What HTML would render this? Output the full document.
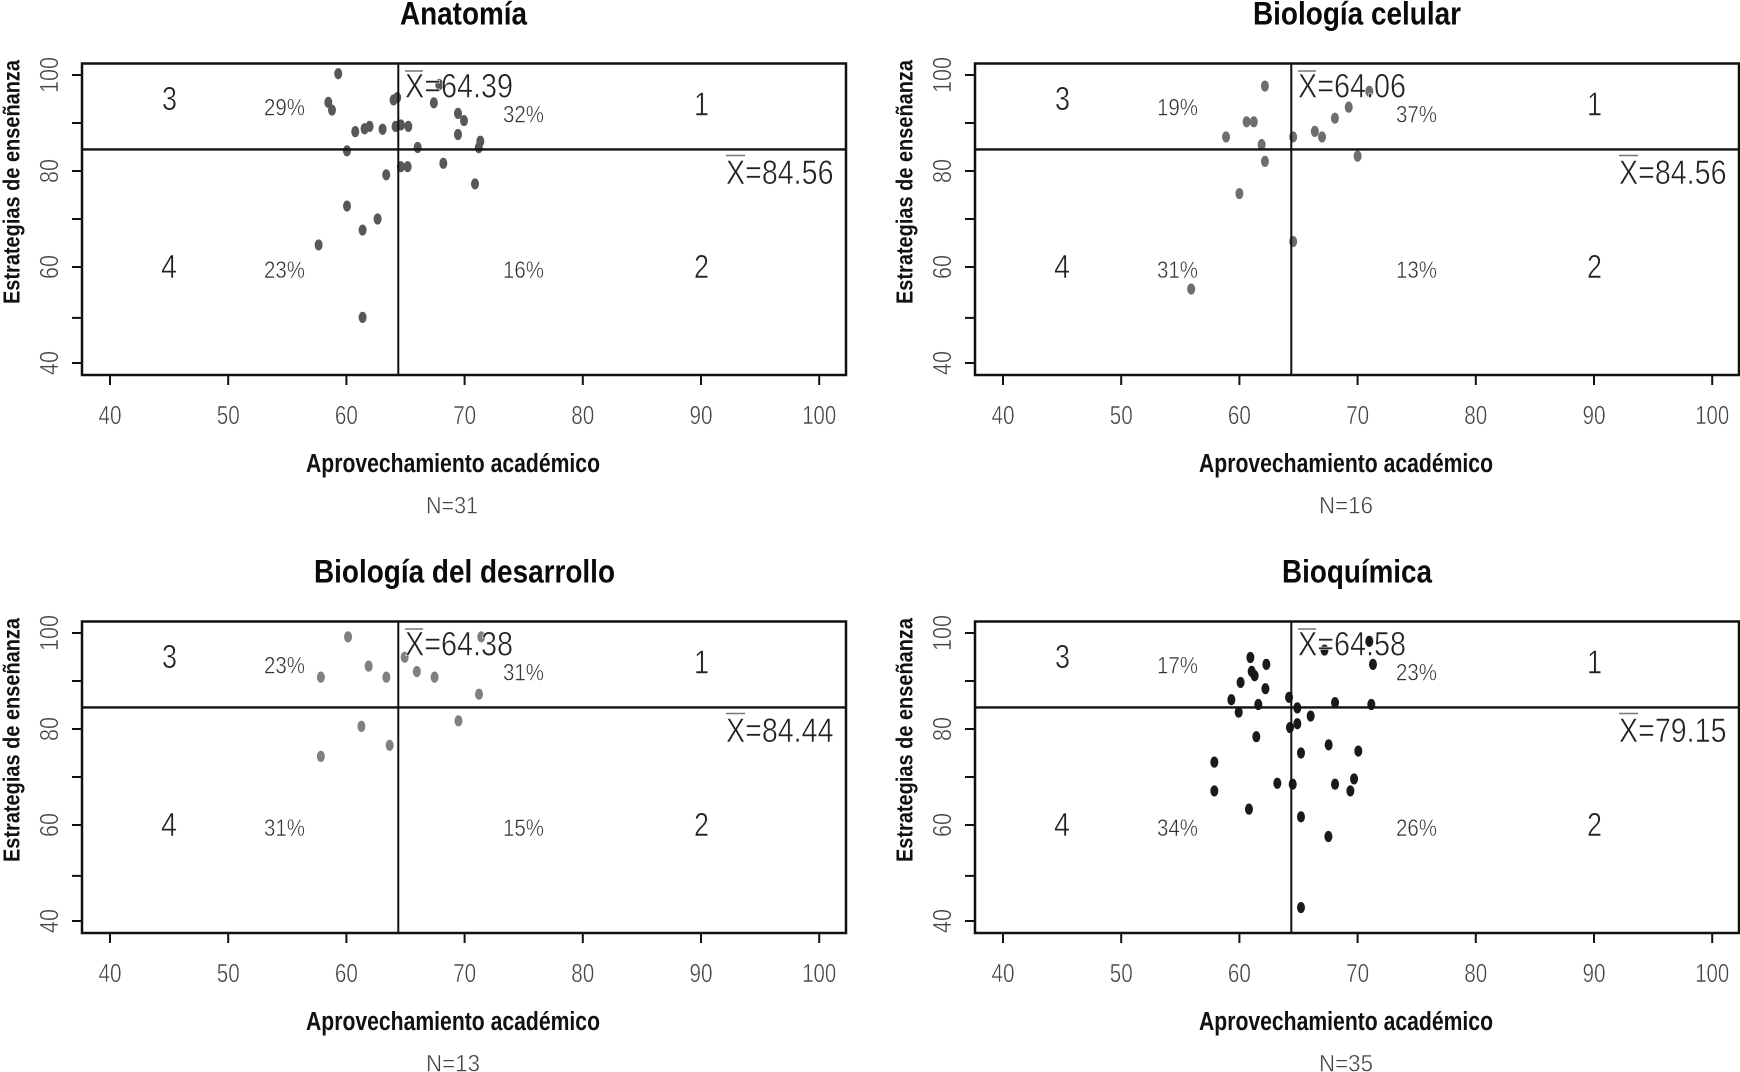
<!DOCTYPE html>
<html lang="es">
<head>
<meta charset="utf-8">
<title>Estrategias de enseñanza vs aprovechamiento académico</title>
<style>
html,body{margin:0;padding:0;background:#fff;}
svg{display:block;}
text{font-family:"Liberation Sans",sans-serif;}
.title{font-size:32px;font-weight:bold;fill:#0a0a0a;}
.xtitle{font-size:25.5px;font-weight:bold;fill:#111;}
.ytitle{font-size:23px;font-weight:bold;fill:#111;}
.n{font-size:24px;fill:#444;stroke:#fff;stroke-width:.45px;}
.q{font-size:33px;fill:#222;stroke:#fff;stroke-width:.55px;}
.pct{font-size:24px;fill:#333;stroke:#fff;stroke-width:.45px;}
.mean{font-size:34px;fill:#222;stroke:#fff;stroke-width:.6px;}
.tick{font-size:26px;fill:#444;stroke:#fff;stroke-width:.45px;}
.box{fill:none;stroke:#111;stroke-width:2.5;}
.bar{stroke:#777;stroke-width:1.6;}
</style>
</head>
<body>
<svg xmlns="http://www.w3.org/2000/svg" width="1740" height="1072" viewBox="0 0 1740 1072">
<rect width="1740" height="1072" fill="#fff"/>

<g transform="translate(0,0)">
  <g id="marks0"></g>
  <rect class="box" x="82" y="63.5" width="764" height="311.5"/>
  <text class="title" x="400" y="24.5" textLength="127" lengthAdjust="spacingAndGlyphs">Anatomía</text>
  <text class="xtitle" x="306" y="472" textLength="294" lengthAdjust="spacingAndGlyphs">Aprovechamiento académico</text>
  <text class="ytitle" transform="translate(19.5,304) rotate(-90)" textLength="244" lengthAdjust="spacingAndGlyphs">Estrategias de enseñanza</text>
  <text class="n" x="426" y="513.5" textLength="52" lengthAdjust="spacingAndGlyphs">N=31</text>
  <text class="q" x="162" y="110" textLength="15" lengthAdjust="spacingAndGlyphs">3</text>
  <text class="q" x="694" y="115.5" textLength="15" lengthAdjust="spacingAndGlyphs">1</text>
  <text class="q" x="161" y="278" textLength="16" lengthAdjust="spacingAndGlyphs">4</text>
  <text class="q" x="694" y="278" textLength="15" lengthAdjust="spacingAndGlyphs">2</text>
  <text class="pct" x="264" y="115.5" textLength="41" lengthAdjust="spacingAndGlyphs">29%</text>
  <text class="pct" x="503" y="122.5" textLength="41" lengthAdjust="spacingAndGlyphs">32%</text>
  <text class="pct" x="264" y="278" textLength="41" lengthAdjust="spacingAndGlyphs">23%</text>
  <text class="pct" x="503" y="278" textLength="41" lengthAdjust="spacingAndGlyphs">16%</text>
  <line class="bar" x1="405" x2="423" y1="71" y2="71"/>
  <text class="mean" x="405" y="97.5" textLength="108" lengthAdjust="spacingAndGlyphs">X=64.39</text>
  <line class="bar" x1="726" x2="745" y1="155.5" y2="155.5"/>
  <text class="mean" x="726" y="184" textLength="107.5" lengthAdjust="spacingAndGlyphs">X=84.56</text>
</g>

<g transform="translate(893,0)">
  <g id="marks1"></g>
  <rect class="box" x="82" y="63.5" width="764" height="311.5"/>
  <text class="title" x="360" y="24.5" textLength="208" lengthAdjust="spacingAndGlyphs">Biología celular</text>
  <text class="xtitle" x="306" y="472" textLength="294" lengthAdjust="spacingAndGlyphs">Aprovechamiento académico</text>
  <text class="ytitle" transform="translate(19.5,304) rotate(-90)" textLength="244" lengthAdjust="spacingAndGlyphs">Estrategias de enseñanza</text>
  <text class="n" x="426" y="513.5" textLength="54" lengthAdjust="spacingAndGlyphs">N=16</text>
  <text class="q" x="162" y="110" textLength="15" lengthAdjust="spacingAndGlyphs">3</text>
  <text class="q" x="694" y="115.5" textLength="15" lengthAdjust="spacingAndGlyphs">1</text>
  <text class="q" x="161" y="278" textLength="16" lengthAdjust="spacingAndGlyphs">4</text>
  <text class="q" x="694" y="278" textLength="15" lengthAdjust="spacingAndGlyphs">2</text>
  <text class="pct" x="264" y="115.5" textLength="41" lengthAdjust="spacingAndGlyphs">19%</text>
  <text class="pct" x="503" y="122.5" textLength="41" lengthAdjust="spacingAndGlyphs">37%</text>
  <text class="pct" x="264" y="278" textLength="41" lengthAdjust="spacingAndGlyphs">31%</text>
  <text class="pct" x="503" y="278" textLength="41" lengthAdjust="spacingAndGlyphs">13%</text>
  <line class="bar" x1="405" x2="423" y1="71" y2="71"/>
  <text class="mean" x="405" y="97.5" textLength="108" lengthAdjust="spacingAndGlyphs">X=64.06</text>
  <line class="bar" x1="726" x2="745" y1="155.5" y2="155.5"/>
  <text class="mean" x="726" y="184" textLength="107.5" lengthAdjust="spacingAndGlyphs">X=84.56</text>
</g>

<g transform="translate(0,558)">
  <g id="marks2"></g>
  <rect class="box" x="82" y="63.5" width="764" height="311.5"/>
  <text class="title" x="314" y="24.5" textLength="301" lengthAdjust="spacingAndGlyphs">Biología del desarrollo</text>
  <text class="xtitle" x="306" y="472" textLength="294" lengthAdjust="spacingAndGlyphs">Aprovechamiento académico</text>
  <text class="ytitle" transform="translate(19.5,304) rotate(-90)" textLength="244" lengthAdjust="spacingAndGlyphs">Estrategias de enseñanza</text>
  <text class="n" x="426" y="513.5" textLength="54" lengthAdjust="spacingAndGlyphs">N=13</text>
  <text class="q" x="162" y="110" textLength="15" lengthAdjust="spacingAndGlyphs">3</text>
  <text class="q" x="694" y="115.5" textLength="15" lengthAdjust="spacingAndGlyphs">1</text>
  <text class="q" x="161" y="278" textLength="16" lengthAdjust="spacingAndGlyphs">4</text>
  <text class="q" x="694" y="278" textLength="15" lengthAdjust="spacingAndGlyphs">2</text>
  <text class="pct" x="264" y="115.5" textLength="41" lengthAdjust="spacingAndGlyphs">23%</text>
  <text class="pct" x="503" y="122.5" textLength="41" lengthAdjust="spacingAndGlyphs">31%</text>
  <text class="pct" x="264" y="278" textLength="41" lengthAdjust="spacingAndGlyphs">31%</text>
  <text class="pct" x="503" y="278" textLength="41" lengthAdjust="spacingAndGlyphs">15%</text>
  <line class="bar" x1="405" x2="423" y1="71" y2="71"/>
  <text class="mean" x="405" y="97.5" textLength="108" lengthAdjust="spacingAndGlyphs">X=64.38</text>
  <line class="bar" x1="726" x2="745" y1="155.5" y2="155.5"/>
  <text class="mean" x="726" y="184" textLength="107.5" lengthAdjust="spacingAndGlyphs">X=84.44</text>
</g>

<g transform="translate(893,558)">
  <g id="marks3"></g>
  <rect class="box" x="82" y="63.5" width="764" height="311.5"/>
  <text class="title" x="389" y="24.5" textLength="150" lengthAdjust="spacingAndGlyphs">Bioquímica</text>
  <text class="xtitle" x="306" y="472" textLength="294" lengthAdjust="spacingAndGlyphs">Aprovechamiento académico</text>
  <text class="ytitle" transform="translate(19.5,304) rotate(-90)" textLength="244" lengthAdjust="spacingAndGlyphs">Estrategias de enseñanza</text>
  <text class="n" x="426" y="513.5" textLength="54" lengthAdjust="spacingAndGlyphs">N=35</text>
  <text class="q" x="162" y="110" textLength="15" lengthAdjust="spacingAndGlyphs">3</text>
  <text class="q" x="694" y="115.5" textLength="15" lengthAdjust="spacingAndGlyphs">1</text>
  <text class="q" x="161" y="278" textLength="16" lengthAdjust="spacingAndGlyphs">4</text>
  <text class="q" x="694" y="278" textLength="15" lengthAdjust="spacingAndGlyphs">2</text>
  <text class="pct" x="264" y="115.5" textLength="41" lengthAdjust="spacingAndGlyphs">17%</text>
  <text class="pct" x="503" y="122.5" textLength="41" lengthAdjust="spacingAndGlyphs">23%</text>
  <text class="pct" x="264" y="278" textLength="41" lengthAdjust="spacingAndGlyphs">34%</text>
  <text class="pct" x="503" y="278" textLength="41" lengthAdjust="spacingAndGlyphs">26%</text>
  <line class="bar" x1="405" x2="423" y1="71" y2="71"/>
  <text class="mean" x="405" y="97.5" textLength="108" lengthAdjust="spacingAndGlyphs">X=64.58</text>
  <line class="bar" x1="726" x2="745" y1="155.5" y2="155.5"/>
  <text class="mean" x="726" y="184" textLength="107.5" lengthAdjust="spacingAndGlyphs">X=79.15</text>
</g>
</svg>

<script>
// Axis tick values and labels
const xTicks = [40, 50, 60, 70, 80, 90, 100];
const yMajorTicks = [40, 60, 80, 100];
const yMinorTicks = [49.4, 70, 90];

// Reference line values per panel, as drawn
const refLineX = [64.39, 64.39, 64.39, 64.39];
const refLineY = [84.5, 84.5, 84.5, 84.5];

// Panel 0: Anatomía
const anatomiaX = [59.31, 58.47, 58.78, 63.99, 64.3, 67.86, 67.4, 69.44, 69.95, 69.44, 71.33, 71.2, 66.03, 65.24, 64.61, 64.16, 63.06, 61.96, 61.54, 60.75, 60.05, 64.61, 65.18, 68.2, 63.37, 70.88, 60.05, 62.64, 61.37, 57.65, 61.37];
const anatomiaY = [100.27, 94.3, 92.7, 94.8, 95.3, 98.0, 94.2, 92.0, 90.5, 87.6, 86.2, 84.85, 84.9, 89.3, 89.6, 89.3, 88.7, 89.3, 88.8, 88.2, 84.2, 80.9, 80.9, 81.6, 79.2, 77.3, 72.7, 70.0, 67.7, 64.6, 49.5];

// Panel 1: Biología celular
const celularX = [62.16, 70.99, 69.25, 68.08, 60.61, 61.22, 66.38, 66.99, 64.55, 58.87, 61.88, 62.16, 70.0, 60.0, 64.55, 55.92];
const celularY = [97.7, 96.6, 93.3, 91.0, 90.25, 90.25, 88.25, 87.1, 87.1, 87.1, 85.5, 82.0, 83.1, 75.3, 65.3, 55.4];

// Panel 2: Biología del desarrollo
const desarrolloX = [60.14, 71.41, 64.93, 61.88, 65.96, 67.46, 63.38, 57.84, 71.22, 69.48, 61.27, 63.66, 57.84];
const desarrolloY = [99.2, 99.2, 94.95, 93.1, 91.96, 90.8, 90.8, 90.8, 87.25, 81.7, 80.55, 76.6, 74.3];

// Panel 3: Bioquímica
const bioquimicaX = [70.99, 67.2, 71.3, 60.93, 62.28, 61.04, 61.29, 60.1, 62.2, 59.32, 59.94, 61.6, 64.2, 64.9, 68.09, 71.16, 66.03, 64.9, 64.28, 61.43, 67.55, 70.06, 65.21, 57.88, 63.21, 64.51, 68.09, 69.7, 69.39, 57.88, 60.81, 65.21, 67.53, 65.21];
const bioquimicaY = [98.26, 96.45, 93.46, 94.9, 93.46, 92.0, 91.1, 89.7, 88.4, 86.1, 83.5, 85.1, 86.6, 84.4, 85.5, 85.1, 82.7, 81.1, 80.3, 78.4, 76.7, 75.4, 75.0, 73.1, 68.7, 68.5, 68.5, 69.6, 67.1, 67.1, 63.3, 61.7, 57.6, 42.8];

const panelX = [anatomiaX, celularX, desarrolloX, bioquimicaX];
const panelY = [anatomiaY, celularY, desarrolloY, bioquimicaY];
const panelColors = ['#58585a', '#6e6e6e', '#808081', '#1a1a1a'];

const SVGNS = 'http://www.w3.org/2000/svg';
const PLOT_TOP = 63.5, PLOT_BOTTOM = 375, PLOT_LEFT = 82, PLOT_RIGHT = 846;

function xScale(v) { return 110 + (v - 40) * 11.82; }
function yScale(v) { return 363 - (v - 40) * 4.8; }

function line(parent, x1, y1, x2, y2, width, color) {
  const el = document.createElementNS(SVGNS, 'line');
  el.setAttribute('x1', x1);
  el.setAttribute('y1', y1);
  el.setAttribute('x2', x2);
  el.setAttribute('y2', y2);
  el.setAttribute('stroke', color);
  el.setAttribute('stroke-width', width);
  parent.appendChild(el);
  return el;
}

panelX.forEach(function (xs, p) {
  const g = document.getElementById('marks' + p);
  const ys = panelY[p];

  xs.forEach(function (xv, i) {
    const pt = document.createElementNS(SVGNS, 'ellipse');
    pt.setAttribute('cx', xScale(xv));
    pt.setAttribute('cy', yScale(ys[i]));
    pt.setAttribute('rx', 4);
    pt.setAttribute('ry', 5.6);
    pt.setAttribute('fill', panelColors[p]);
    
    
    g.appendChild(pt);
  });

  const vl = line(g, xScale(refLineX[p]), PLOT_TOP, xScale(refLineX[p]), PLOT_BOTTOM, 2, '#111');
  
  

  const hl = line(g, PLOT_LEFT, yScale(refLineY[p]), PLOT_RIGHT, yScale(refLineY[p]), 2.4, '#111');
  
  

  xTicks.forEach(function (t) {
    const tk = line(g, xScale(t), PLOT_BOTTOM, xScale(t), PLOT_BOTTOM + 10, 2, '#111');
    
    

    const lb = document.createElementNS(SVGNS, 'text');
    lb.setAttribute('class', 'tick');
    lb.setAttribute('x', xScale(t));
    lb.setAttribute('y', 424);
    lb.setAttribute('text-anchor', 'middle');
    lb.setAttribute('textLength', t === 100 ? 34 : 23);
    lb.setAttribute('lengthAdjust', 'spacingAndGlyphs');
    
    
    lb.textContent = String(t);
    g.appendChild(lb);
  });

  yMinorTicks.forEach(function (t) {
    const tk = line(g, PLOT_LEFT - 10, yScale(t), PLOT_LEFT, yScale(t), 2, '#111');
    
    
  });

  yMajorTicks.forEach(function (t) {
    const tk = line(g, PLOT_LEFT - 10, yScale(t), PLOT_LEFT, yScale(t), 2, '#111');
    
    

    const lb = document.createElementNS(SVGNS, 'text');
    lb.setAttribute('class', 'tick');
    lb.setAttribute('transform', 'translate(58,' + yScale(t) + ') rotate(-90)');
    lb.setAttribute('text-anchor', 'middle');
    lb.setAttribute('textLength', t === 100 ? 36 : 24);
    lb.setAttribute('lengthAdjust', 'spacingAndGlyphs');
    
    
    lb.textContent = String(t);
    g.appendChild(lb);
  });
});
</script>
</body>
</html>
